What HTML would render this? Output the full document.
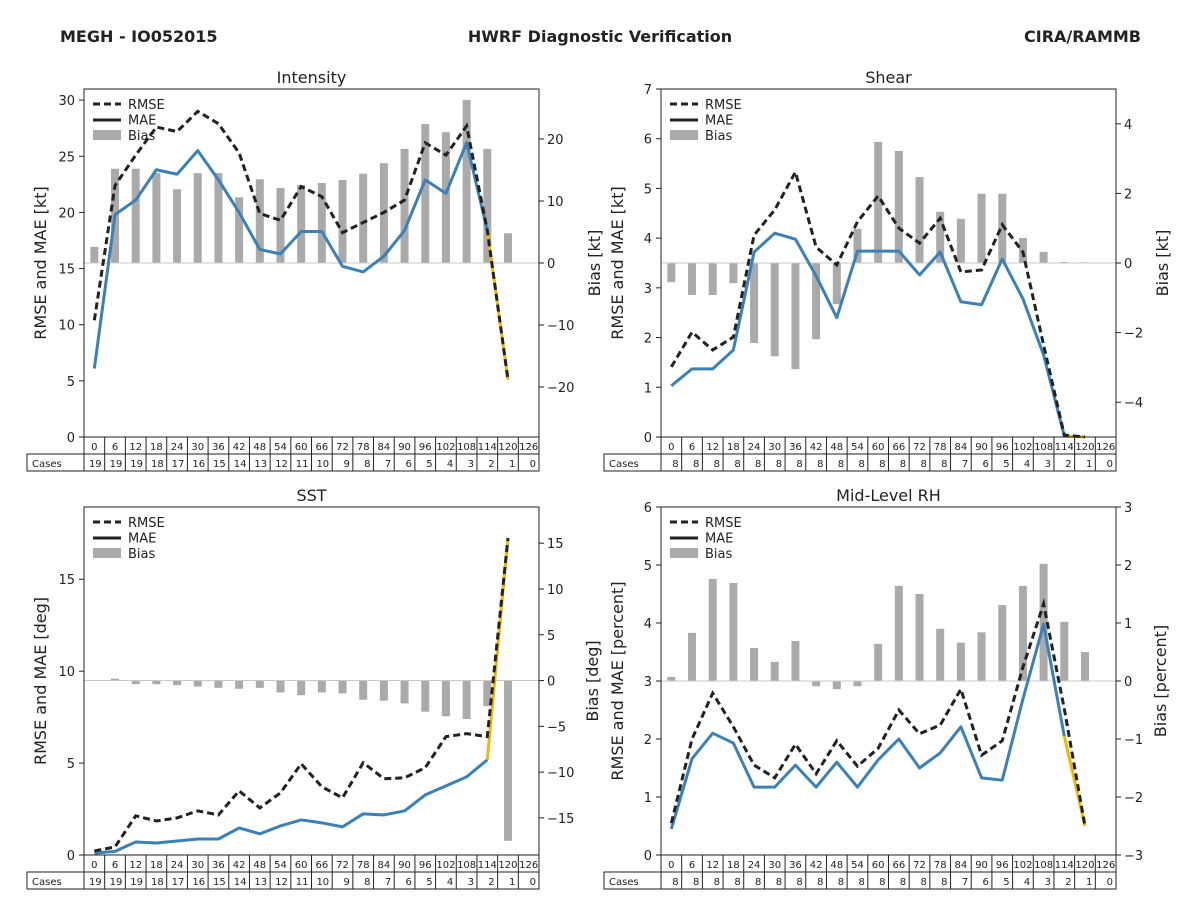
<!DOCTYPE html>
<html><head><meta charset="utf-8"><style>
body{margin:0;background:#fff;width:1200px;height:900px;overflow:hidden;font-family:"DejaVu Sans","Liberation Sans",sans-serif}
svg text{font-family:"DejaVu Sans","Liberation Sans",sans-serif}
</style></head><body>
<svg id="fig" width="1200" height="900" xmlns="http://www.w3.org/2000/svg">
<text x="60" y="42" font-size="16" font-weight="bold" fill="#222">MEGH - IO052015</text>
<text x="600" y="42" font-size="16" font-weight="bold" fill="#222" text-anchor="middle">HWRF Diagnostic Verification</text>
<text x="1141" y="42" font-size="16" font-weight="bold" fill="#222" text-anchor="end">CIRA/RAMMB</text>
</svg>
<script>
const hours=[0,6,12,18,24,30,36,42,48,54,60,66,72,78,84,90,96,102,108,114,120,126];
const casesInt=[19,19,19,18,17,16,15,14,13,12,11,10,9,8,7,6,5,4,3,2,1,0];
const casesShr=[8,8,8,8,8,8,8,8,8,8,8,8,8,8,7,6,5,4,3,2,1,0];
const intRmse=[10.4,22.4,25.1,27.6,27.2,29.0,27.9,25.3,19.9,19.3,22.3,21.4,18.2,19.1,20.0,21.1,26.2,25.1,27.7,18.4,5.1];
const intMae=[6.1,19.8,21.1,23.8,23.4,25.5,22.9,20.0,16.7,16.3,18.3,18.3,15.2,14.7,16.1,18.4,22.9,21.7,26.2,18.4,5.1];
const intBias=[2.6,15.2,15.2,14.5,11.9,14.5,14.5,10.6,13.5,12.1,12.6,12.9,13.4,14.4,16.1,18.4,22.4,21.1,26.3,18.4,4.8];
const shrRmse=[1.41,2.11,1.75,2.01,4.06,4.57,5.33,3.82,3.46,4.33,4.85,4.2,3.9,4.4,3.32,3.36,4.27,3.72,1.85,0.04,0];
const shrMae=[1.03,1.37,1.37,1.75,3.72,4.1,3.98,3.24,2.4,3.74,3.74,3.74,3.26,3.72,2.72,2.66,3.58,2.78,1.65,0.02,0];
const shrBias=[-0.55,-0.92,-0.92,-0.58,-2.3,-2.68,-3.05,-2.19,-1.18,0.98,3.48,3.22,2.47,1.47,1.27,1.99,1.99,0.72,0.32,0.03,0.02];
const sstRmse=[0.22,0.44,2.13,1.85,2.02,2.4,2.18,3.49,2.56,3.38,4.96,3.71,3.11,5.02,4.15,4.2,4.75,6.44,6.6,6.44,17.24];
const sstMae=[0.1,0.2,0.71,0.65,0.76,0.87,0.87,1.47,1.15,1.58,1.91,1.75,1.53,2.24,2.18,2.4,3.27,3.76,4.25,5.18,17.24];
const sstBias=[-0.05,0.2,-0.4,-0.4,-0.5,-0.65,-0.8,-0.9,-0.8,-1.3,-1.6,-1.3,-1.4,-2.1,-2.2,-2.5,-3.4,-3.9,-4.2,-2.8,-17.5];
const rhRmse=[0.55,2.0,2.79,2.21,1.55,1.33,1.91,1.4,1.97,1.53,1.84,2.5,2.09,2.24,2.86,1.72,1.97,3.24,4.33,2.52,0.5];
const rhMae=[0.45,1.66,2.1,1.93,1.17,1.17,1.55,1.17,1.6,1.17,1.64,2.0,1.5,1.76,2.21,1.33,1.29,2.69,3.98,2.05,0.5];
const rhBias=[0.07,0.83,1.76,1.69,0.57,0.33,0.69,-0.09,-0.14,-0.09,0.64,1.64,1.5,0.9,0.66,0.84,1.31,1.64,2.02,1.02,0.5];
const intLeftTicks=[0,5,10,15,20,25,30];
const intRightTicks=[-20,-10,0,10,20];
const shrLeftTicks=[0,1,2,3,4,5,6,7];
const shrRightTicks=[-4,-2,0,2,4];
const sstLeftTicks=[0,5,10,15];
const sstRightTicks=[-15,-10,-5,0,5,10,15];
const rhLeftTicks=[0,1,2,3,4,5,6];
const rhRightTicks=[-3,-2,-1,0,1,2,3];

const NS="http://www.w3.org/2000/svg";
const fig=document.getElementById('fig');
function mk(tag,attrs,parent){const e=document.createElementNS(NS,tag);for(const k in attrs)e.setAttribute(k,attrs[k]);(parent||fig).appendChild(e);return e;}

function panel(p){
  const g=mk('g',{});
  
  
  const L=p.x0,R=p.x0+455,T=p.y0,B=p.y0+348;
  const cw=(R-L)/hours.length;
  const xs=i=>L+cw*(i+0.5);
  const yl=v=>B-(v-p.lmin)/(p.lmax-p.lmin)*(B-T);
  const yr=v=>B-(v-p.rmin)/(p.rmax-p.rmin)*(B-T);
  // title
  const t=mk('text',{x:(L+R)/2,y:T-6,'font-size':16,'text-anchor':'middle',fill:'#222'},g);t.textContent=p.title;
  
  
  // bars
  p.bias.forEach((v,i)=>{
    const y0=yr(0),y1=yr(v);
    const b=mk('rect',{x:xs(i)-4,y:Math.min(y0,y1),width:8,height:Math.abs(y1-y0),fill:'#aaaaaa'},g);
    
    
  });
  const zl=mk('line',{x1:L,x2:R,y1:yr(0),y2:yr(0),stroke:'#c8c8c8','stroke-width':1},g);
  
  
  // mae
  const n=p.mae.length;
  const pts=(arr,a,b)=>arr.slice(a,b).map((v,k)=>xs(a+k)+','+yl(v)).join(' ');
  const m=mk('polyline',{points:pts(p.mae,0,n-1),fill:'none',stroke:'#3a80b9','stroke-width':3,'stroke-linejoin':'round'},g);
  
  
  const my=mk('polyline',{points:pts(p.mae,n-2,n),fill:'none',stroke:'#f0b800','stroke-width':3},g);
  
  
  const r=mk('polyline',{points:pts(p.rmse,0,n),fill:'none',stroke:'#222','stroke-width':3,'stroke-dasharray':'7,4'},g);
  
  
  // frame
  const fr=mk('rect',{x:L,y:T,width:R-L,height:B-T,fill:'none',stroke:'#222','stroke-width':1},g);
  
  
  // ticks
  p.lt.forEach(v=>{
    mk('line',{x1:L-5,x2:L,y1:yl(v),y2:yl(v),stroke:'#222'},g);
    const tx=mk('text',{x:L-9,y:yl(v)+5,'font-size':13,'text-anchor':'end',fill:'#222'},g);tx.textContent=v;
    
    
  });
  p.rt.forEach(v=>{
    mk('line',{x1:R,x2:R+5,y1:yr(v),y2:yr(v),stroke:'#222'},g);
    const tx=mk('text',{x:R+8,y:yr(v)+5,'font-size':13,fill:'#222'},g);tx.textContent=(v<0?'\u2212'+(-v):v);
    
    
  });
  // axis labels
  const cy=(T+B)/2;
  const la=mk('text',{x:L-38,y:cy,'font-size':16,'text-anchor':'middle',fill:'#222',transform:`rotate(-90 ${L-38} ${cy})`},g);la.textContent=p.ll;
  
  
  const lrx=p.rlx;
  const ra=mk('text',{x:lrx,y:cy,'font-size':16,'text-anchor':'middle',fill:'#222',transform:`rotate(-90 ${lrx} ${cy})`},g);ra.textContent=p.rl;
  
  
  // legend
  const lg=mk('g',{},g);
  
  
  const lx=L+9;
  mk('line',{x1:lx,x2:lx+28,y1:T+15,y2:T+15,stroke:'#222','stroke-width':3,'stroke-dasharray':'7,4'},lg);
  mk('line',{x1:lx,x2:lx+28,y1:T+31,y2:T+31,stroke:'#222','stroke-width':3},lg);
  mk('rect',{x:lx,y:T+41,width:28,height:10,fill:'#aaaaaa'},lg);
  ['RMSE','MAE','Bias'].forEach((s,k)=>{const tx=mk('text',{x:lx+35,y:T+20+k*15.5,'font-size':13,fill:'#222'},lg);tx.textContent=s;});
  // table
  const tb=mk('g',{},g);
  
  
  mk('rect',{x:L,y:B,width:R-L,height:17,fill:'none',stroke:'#222'},tb);
  mk('rect',{x:L-57,y:B+17,width:R-L+57,height:17,fill:'none',stroke:'#222'},tb);
  mk('line',{x1:L,x2:L,y1:B+17,y2:B+34,stroke:'#222'},tb);
  const cl=mk('text',{x:L-52,y:B+30,'font-size':10,fill:'#222'},tb);cl.textContent='Cases';
  hours.forEach((h,i)=>{
    if(i>0)mk('line',{x1:L+cw*i,x2:L+cw*i,y1:B,y2:B+34,stroke:'#222'},tb);
    const a=mk('text',{x:xs(i),y:B+13,'font-size':10,'text-anchor':'middle',fill:'#222'},tb);a.textContent=h;
    const c=mk('text',{x:L+cw*(i+1)-3,y:B+30,'font-size':10,'text-anchor':'end',fill:'#222'},tb);c.textContent=p.cases[i];
  });
}
panel({id:'intensity',title:'Intensity',x0:84,y0:89,lmin:0,lmax:30.99,rmin:-28.06,rmax:28.06,rmse:intRmse,mae:intMae,bias:intBias,lt:intLeftTicks,rt:intRightTicks,ll:'RMSE and MAE [kt]',rl:'Bias [kt]',rlx:600,cases:casesInt});
panel({id:'shear',title:'Shear',x0:661,y0:89,lmin:0,lmax:7,rmin:-5,rmax:5,rmse:shrRmse,mae:shrMae,bias:shrBias,lt:shrLeftTicks,rt:shrRightTicks,ll:'RMSE and MAE [kt]',rl:'Bias [kt]',rlx:1168,cases:casesShr});
panel({id:'sst',title:'SST',x0:84,y0:507,lmin:0,lmax:18.93,rmin:-19.05,rmax:18.95,rmse:sstRmse,mae:sstMae,bias:sstBias,lt:sstLeftTicks,rt:sstRightTicks,ll:'RMSE and MAE [deg]',rl:'Bias [deg]',rlx:598,cases:casesInt});
panel({id:'rh',title:'Mid-Level RH',x0:661,y0:507,lmin:0,lmax:6,rmin:-3,rmax:3,rmse:rhRmse,mae:rhMae,bias:rhBias,lt:rhLeftTicks,rt:rhRightTicks,ll:'RMSE and MAE [percent]',rl:'Bias [percent]',rlx:1166,cases:casesShr});
</script>
</body></html>
